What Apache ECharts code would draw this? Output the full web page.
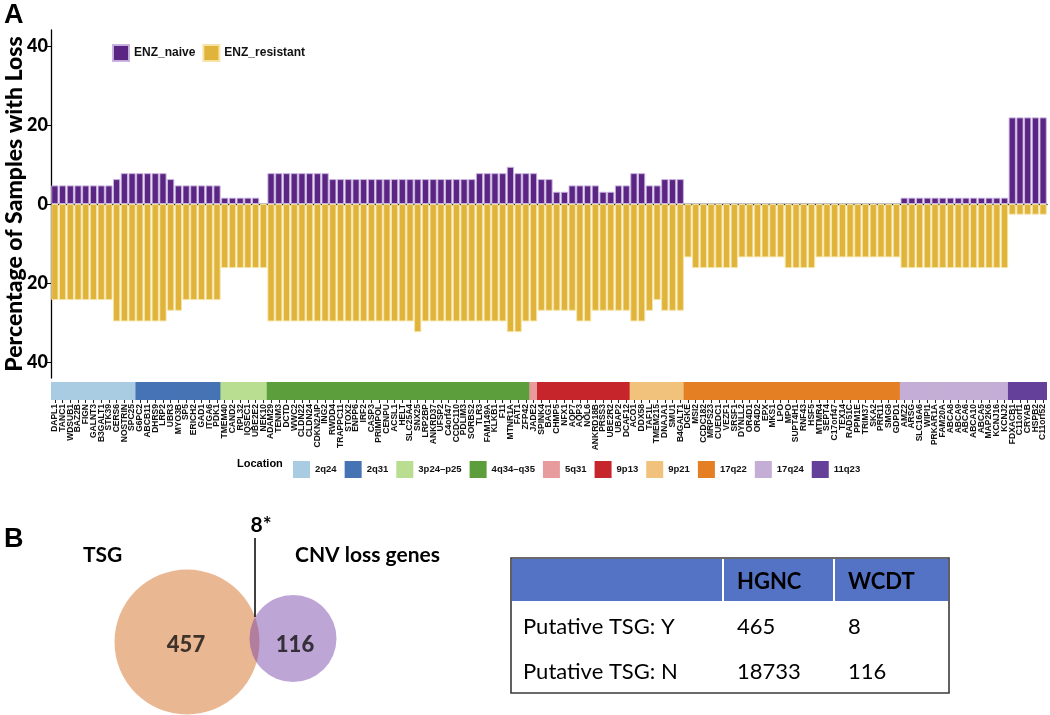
<!DOCTYPE html>
<html><head><meta charset="utf-8">
<script src="https://cdn.jsdelivr.net/npm/echarts@6/dist/echarts.min.js"></script>
<style>html,body{margin:0;padding:0;background:#fff}#c{width:1050px;height:715px}</style>
</head><body><div id="c"></div>
<script>
// ---------- DATA ----------
const genes = [
 'DAPL1','TANC1','WDSUB1','BAZ2B','FIGN','GALNT3','B3GALT1','STK39','CERS6','NOSTRIN','SPC25',
 'G6PC2','ABCB11','DHRS9','LRP2','UBR3','MYO3B','SP5','ERICH2','GAD1','ITGA6','PDK1',
 'TMEM40','CAND2','RPL32','IQSEC1','UBE2E2','NEK10',
 'ADAM29','TENM3','DCTD','WWC2','CLDN22','CLDN24','CDKN2AIP','ING2','RWDD4','TRAPPC11','STOX2','ENPP6','IRF2','CASP3','PRIMPOL','CENPU','ACSL1','HELT','SLC25A4','SNX25','LRP2BP','ANKRD37','UFSP2','C4orf47','CCDC110','PDLIM3','SORBS2','TLR3','FAM149A','KLKB1','F11','MTNR1A','FAT1','ZFP42',
 'JADE2',
 'SPINK4','BAG1','CHMP5','NFX1','AQP7','AQP3','NOL6','ANKRD18B','PRSS3','UBE2R2','UBAP2','DCAF12',
 'ACO1','DDX58','TAF1L','TMEM215','DNAJA1','SMU1','B4GALT1',
 'DGKE','MSI2','CCDC182','MRPS23','CUEDC1','VEZF1','SRSF1','DYNLL2','OR4D1','OR4D2','EPX','MKS1','LPO','MPO','SUPT4H1','RNF43','HSF5','MTMR4','SEPT4','C17orf47','TEX14','RAD51C','PPM1E','TRIM37','SKA2','PRR11','SMG8','GDPD1',
 'AMZ2','ARSG','SLC16A6','WIPI1','PRKAR1A','FAM20A','ABCA8','ABCA9','ABCA6','ABCA10','ABCA5','MAP2K6','KCNJ16','KCNJ2',
 'FDXACB1','C11orf1','CRYAB','HSPB2','C11orf52'
];
const locationNames = ['2q24','2q31','3p24–p25','4q34–q35','5q31','9p13','9p21','17q22','17q24','11q23'];
const locationCounts = [11,11,6,34,1,12,7,28,14,5];
const naivePct = [
 4.7,4.7,4.7,4.7,4.7,4.7,4.7,4.7,6.3,7.8,7.8,
 7.8,7.8,7.8,7.8,6.3,4.7,4.7,4.7,4.7,4.7,4.7,
 1.6,1.6,1.6,1.6,1.6,0,
 7.8,7.8,7.8,7.8,7.8,7.8,7.8,7.8,6.3,6.3,6.3,6.3,6.3,6.3,6.3,6.3,6.3,6.3,6.3,6.3,6.3,6.3,6.3,6.3,6.3,6.3,6.3,7.8,7.8,7.8,7.8,9.4,7.8,7.8,
 7.8,
 6.3,6.3,3.1,3.1,4.7,4.7,4.7,4.7,3.1,3.1,4.7,4.7,
 7.8,7.8,4.7,4.7,6.3,6.3,6.3,
 0,0,0,0,0,0,0,0,0,0,0,0,0,0,0,0,0,0,0,0,0,0,0,0,0,0,0,0,
 1.6,1.6,1.6,1.6,1.6,1.6,1.6,1.6,1.6,1.6,1.6,1.6,1.6,1.6,
 21.9,21.9,21.9,21.9,21.9
];
const resistantPct = [
 24.3,24.3,24.3,24.3,24.3,24.3,24.3,24.3,29.7,29.7,29.7,
 29.7,29.7,29.7,29.7,27.0,27.0,24.3,24.3,24.3,24.3,24.3,
 16.2,16.2,16.2,16.2,16.2,16.2,
 29.7,29.7,29.7,29.7,29.7,29.7,29.7,29.7,29.7,29.7,29.7,29.7,29.7,29.7,29.7,29.7,29.7,29.7,29.7,32.4,29.7,29.7,29.7,29.7,29.7,29.7,29.7,29.7,29.7,29.7,29.7,32.4,32.4,29.7,
 29.7,
 27.0,27.0,27.0,27.0,27.0,29.7,29.7,27.0,27.0,27.0,27.0,27.0,
 29.7,29.7,27.0,24.3,27.0,27.0,27.0,
 13.5,16.2,16.2,16.2,16.2,16.2,16.2,13.5,13.5,13.5,13.5,13.5,13.5,16.2,16.2,16.2,16.2,13.5,13.5,13.5,13.5,13.5,13.5,13.5,13.5,13.5,13.5,13.5,
 16.2,16.2,16.2,16.2,16.2,16.2,16.2,16.2,16.2,16.2,16.2,16.2,16.2,16.2,
 2.7,2.7,2.7,2.7,2.7
];
const yTickValues = [-40,-20,0,20,40];
const seriesNames = ['ENZ_naive','ENZ_resistant'];
const vennSets = ['TSG','CNV loss genes'];
const vennOnlyCounts = [457,116];
const vennOverlapLabel = '8*';
const tableHeader = ['', 'HGNC', 'WCDT'];
const tableRows = [['Putative TSG: Y','465','8'],['Putative TSG: N','18733','116']];

// ---------- STYLE ----------
const locationColors = ['#A9CCE2','#4673B4','#B9DE92','#5C9E3C','#E89B9C','#C6252C','#F1C27C','#E47F24','#C4AED6','#65409A'];
const geneLoc = [];
locationCounts.forEach((n, li) => { for (let k = 0; k < n; k++) geneLoc.push(li); });

const L = 51, R = 3;
const chart = echarts.init(document.getElementById('c'), null, {renderer: 'canvas'});

const stripSeries = locationNames.map((name, li) => ({
  name, type: 'bar', xAxisIndex: 1, yAxisIndex: 1, stack: 'strip',
  barWidth: 8.6, silent: true,
  itemStyle: {color: locationColors[li]},
  data: genes.map((g, i) => geneLoc[i] === li ? 1 : '-')
}));

const venn = [
  {value: [187, 162], symbolSize: 145, itemStyle: {color: '#E3A577'}, label: {formatter: String(vennOnlyCounts[0]), offset: [-1, 3]}},
  {value: [293, 158.5], symbolSize: 87, itemStyle: {color: 'rgba(118,66,170,0.6)'}, label: {formatter: String(vennOnlyCounts[1]), offset: [2, 6]}}
];

const gfx = [];
const txt = (text, x, y, font, extra) => gfx.push({type: 'text', z: 50, style: Object.assign({text, x, y, font, fill: '#000'}, extra || {})});
txt('A', 4, 2, 'bold 27px "Liberation Sans", Arial');
txt('B', 4, 526, 'bold 27px "Liberation Sans", Arial');
txt('Location', 237, 464, 'bold 11px "Liberation Sans", Arial', {verticalAlign: 'middle'});
txt(vennSets[0], 83, 555, 'bold 21px Lato', {verticalAlign: 'middle'});
txt(vennSets[1], 295, 555, 'bold 21px Lato', {verticalAlign: 'middle'});
txt(vennOverlapLabel, 261, 525, 'bold 21px Lato', {align: 'center', verticalAlign: 'middle'});
gfx.push({type: 'line', z: 50, shape: {x1: 255, y1: 538, x2: 255, y2: 617}, style: {stroke: '#000', lineWidth: 1.5}});

// table
const tx = 511, ty = 558, tw = 438, hh = 43, rh = 45;
const colX = [511, 723, 834, 949];
gfx.push({type: 'rect', z: 40, shape: {x: tx, y: ty, width: tw, height: hh + rh * tableRows.length + 2}, style: {fill: '#fff', stroke: '#3a3a3a', lineWidth: 1.6}});
gfx.push({type: 'rect', z: 41, shape: {x: tx + 1, y: ty + 1, width: tw - 2, height: hh - 1}, style: {fill: '#5573C4'}});
[1, 2].forEach(c => gfx.push({type: 'line', z: 42, shape: {x1: colX[c], y1: ty + 1, x2: colX[c], y2: ty + hh}, style: {stroke: '#fff', lineWidth: 2}}));
tableHeader.forEach((h, c) => { if (h) txt(h, colX[c] + 14, ty + hh / 2 + 2, 'bold 22px Lato', {verticalAlign: 'middle'}); });
tableRows.forEach((row, r) => row.forEach((v, c) => txt(v, colX[c] + (c === 0 ? 12 : 14), ty + hh + 26 + r * rh, '22px Lato', {verticalAlign: 'middle'})));

const option = {
  animation: false,
  backgroundColor: '#fff',
  legend: [
    {data: seriesNames, left: 107, top: 39, itemWidth: 16, itemHeight: 16, itemGap: 7, selectedMode: false,
     icon: 'rect', textStyle: {fontSize: 12, fontWeight: 'bold', fontFamily: '"Liberation Sans", Arial', color: '#111'}},
    {data: locationNames, left: 288, top: 456, itemWidth: 17, itemHeight: 17, itemGap: 8, selectedMode: false,
     icon: 'rect', textStyle: {fontSize: 9.5, fontWeight: 'bold', fontFamily: '"Liberation Sans", Arial', color: '#111'}}
  ],
  grid: [
    {left: L, right: R, top: 30, height: 348, outerBoundsMode: 'none', containLabel: false},
    {left: L, right: R, top: 382, height: 18, outerBoundsMode: 'none', containLabel: false},
    {left: 0, top: 480, width: 520, height: 235, outerBoundsMode: 'none', containLabel: false}
  ],
  xAxis: [
    {type: 'category', gridIndex: 0, data: genes, axisLabel: {show: false}, axisTick: {show: false},
     axisLine: {lineStyle: {color: '#000', width: 1.3}}},
    {type: 'category', gridIndex: 1, data: genes, axisLine: {show: false},
     axisTick: {show: true, length: 3, alignWithLabel: true, lineStyle: {color: '#222'}},
     axisLabel: {interval: 0, rotate: 90, fontSize: 8.5, fontWeight: 'bold', fontFamily: '"Liberation Sans", Arial', color: '#111', margin: 4}},
    {type: 'value', gridIndex: 2, min: 0, max: 520, show: false}
  ],
  yAxis: [
    {type: 'value', gridIndex: 0, min: -44, max: 44,
     name: 'Percentage of Samples with Loss', nameLocation: 'middle', nameGap: 25, nameMoveOverlap: false,
     nameTextStyle: {fontSize: 23, fontWeight: 900, fontFamily: 'Lato', color: '#000'},
     axisLine: {show: true, lineStyle: {color: '#000', width: 1.3}},
     axisTick: {show: true, length: 4, customValues: yTickValues, lineStyle: {color: '#000'}},
     axisLabel: {customValues: yTickValues, formatter: v => String(Math.abs(v)), fontSize: 18, fontWeight: 900, fontFamily: 'Lato', color: '#000', margin: 3},
     splitLine: {show: false}},
    {type: 'value', gridIndex: 1, min: 0, max: 1, show: false},
    {type: 'value', gridIndex: 2, min: 0, max: 235, inverse: true, show: false}
  ],
  graphic: gfx,
  series: [
    {name: seriesNames[0], type: 'bar', xAxisIndex: 0, yAxisIndex: 0, barGap: '-100%', barCategoryGap: '6%',
     itemStyle: {color: '#5B2584', borderColor: 'rgba(200,178,222,0.95)', borderWidth: 1},
     data: naivePct.map(v => v === 0 ? '-' : v)},
    {name: seriesNames[1], type: 'bar', xAxisIndex: 0, yAxisIndex: 0, barGap: '-100%', barCategoryGap: '6%',
     itemStyle: {color: '#E0B33A', borderColor: 'rgba(246,228,165,0.95)', borderWidth: 1},
     data: resistantPct.map(v => -v)},
    ...stripSeries,
    {type: 'scatter', xAxisIndex: 2, yAxisIndex: 2, symbol: 'circle', silent: true,
     label: {show: true, position: 'inside', fontSize: 22, fontWeight: 900, fontFamily: 'Lato', color: '#111'},
     data: venn}
  ]
};
chart.setOption(option);
</script></body></html>
